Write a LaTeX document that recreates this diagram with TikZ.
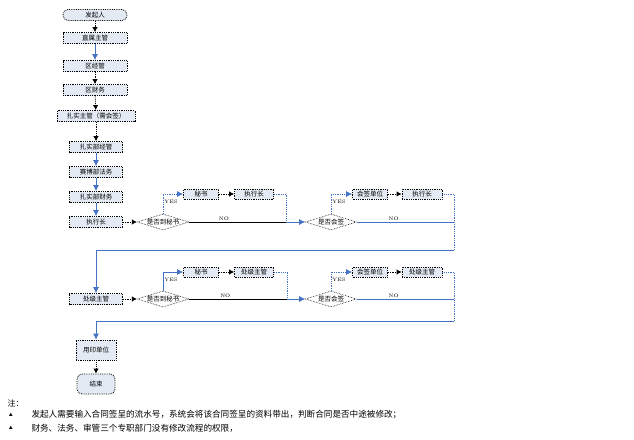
\documentclass[tikz,border=0pt]{standalone}
\usepackage{fontspec}
\newfontfamily\cjk{Noto Sans CJK SC}
\usepackage{xcolor}
\usetikzlibrary{shapes.geometric, arrows.meta}
\definecolor{boxfill}{HTML}{E4EAF4}
\definecolor{flowblue}{HTML}{4472C4}

\begin{document}
\begin{tikzpicture}[x=1pt, y=-1pt,
  every node/.style={font=\cjk\fontsize{6.5}{7}\selectfont},
  box/.style={draw, densely dotted, line width=0.8pt, fill=boxfill, minimum height=11pt, inner sep=1.5pt},
  term/.style={box, rounded corners=5pt},
  decision/.style={diamond, aspect=3.2, draw, densely dotted, line width=0.6pt, fill=white, inner sep=0pt, minimum width=51pt, minimum height=16pt},
  blk/.style={densely dotted, line width=0.8pt, -{Latex[length=5pt,width=5.5pt]}},
  blu/.style={draw=flowblue, line width=0.8pt, -{Latex[length=6pt,width=6pt]}, color=flowblue},
  tag/.style={font=\fontsize{5}{6}\selectfont, text=black, inner sep=1pt}]

\useasboundingbox (0,0) rectangle (634,439);

% 主流程
\node[term, minimum width=64pt] (start) at (95,15) {发起人};
\node[box, minimum width=64pt] (zs) at (95,38) {直属主管};
\node[box, minimum width=64pt] (qj) at (95,66) {区经管};
\node[box, minimum width=64pt] (qc) at (95,90) {区财务};
\node[box, minimum width=78pt] (zz) at (96,116) {扎实主管（需会签）};
\node[box, minimum width=53pt] (bj) at (96,147) {扎实部经管};
\node[box, minimum width=53pt] (bf) at (96,172) {赛博部法务};
\node[box, minimum width=53pt] (bc) at (96,197) {扎实部财务};
\node[box, minimum width=53pt] (ex) at (96,222) {执行长};

\foreach \a/\b/\s in {start/zs/blk, zs/qj/blu, qj/qc/blk, qc/zz/blk,
  zz/bj/blk, bj/bf/blu, bf/bc/blu, bc/ex/blu}
  \draw[\s] (\a) -- (\b);

% 第一行
\node[decision] (d1) at (163,222) {是否到秘书};
\node[box, minimum width=35pt, minimum height=10pt] (ms1) at (201,194) {秘书};
\node[box, minimum width=39pt, minimum height=10pt] (ex1) at (254,194) {执行长};
\node[decision] (d2) at (331,222) {是否会签};
\node[box, minimum width=35pt, minimum height=10pt] (hq1) at (370,194) {会签单位};
\node[box, minimum width=40pt, minimum height=10pt] (ex2) at (422,194) {执行长};
\coordinate (j1) at (286,222);
\coordinate (j2) at (454,222);
\coordinate (r1) at (454,250);

\draw[blk] (ex) -- (d1);
\draw[blu, densely dotted] (d1.north) |- (ms1.west) node[pos=0.3, right, tag] {YES};
\draw[blk] (ms1) -- (ex1);
\draw[blu, densely dotted, -] (ex1.east) -| (j1);
\draw[line width=0.8pt] (d1.east) -- (j1) node[pos=0.36, above, tag] {NO};
\draw[blu] (j1) -- (d2);
\draw[blu, densely dotted] (d2.north) |- (hq1.west) node[pos=0.3, right, tag] {YES};
\draw[blk] (hq1) -- (ex2);
\draw[blu, densely dotted, -] (ex2.east) -| (r1);
\draw[blu, -] (d2.east) -- (j2) node[pos=0.38, above, tag] {NO};

% 第二行
\node[box, minimum width=53pt] (ph) at (96,299) {处级主管};
\draw[blu] (r1) -| (ph.north);

\node[decision] (d3) at (163,299) {是否到秘书};
\node[box, minimum width=35pt, minimum height=10pt] (ms2) at (201,272) {秘书};
\node[box, minimum width=39pt, minimum height=10pt] (ph1) at (254,272) {处级主管};
\node[decision] (d4) at (331,299) {是否会签};
\node[box, minimum width=35pt, minimum height=10pt] (hq2) at (370,272) {会签单位};
\node[box, minimum width=40pt, minimum height=10pt] (ph2) at (422,272) {处级主管};
\coordinate (j3) at (287,299);
\coordinate (j4) at (454,299);
\coordinate (r2) at (454,321);

\draw[blk] (ph) -- (d3);
\draw[blu] (d3.north) |- (ms2.west) node[pos=0.3, right, tag] {YES};
\draw[blk] (ms2) -- (ph1);
\draw[blu, densely dotted, -] (ph1.east) -| (j3);
\draw[line width=0.8pt] (d3.east) -- (j3) node[pos=0.37, above, tag] {NO};
\draw[blu] (j3) -- (d4);
\draw[blu, densely dotted] (d4.north) |- (hq2.west) node[pos=0.3, right, tag] {YES};
\draw[blk] (hq2) -- (ph2);
\draw[blu, densely dotted, -] (ph2.east) -| (r2);
\draw[blu, -] (d4.east) -- (j4) node[pos=0.38, above, tag] {NO};

% 结束
\node[box, minimum width=40pt, minimum height=20pt] (yy) at (96,350) {用印单位};
\node[term, minimum width=38pt, minimum height=20pt] (end) at (96,384) {结束};
\draw[blu] (r2) -| (yy.north);
\draw[blk] (yy) -- (end);

% 注
\node[anchor=west, font=\cjk\fontsize{8}{9}\selectfont] (note) at (4,403) {注：};
\node[font=\cjk\fontsize{4}{5}\selectfont] (b1) at (11,415) {▲};
\node[anchor=west, font=\cjk\fontsize{8.6}{9}\selectfont] (n1) at (28,415)
  {发起人需要输入合同签呈的流水号，系统会将该合同签呈的资料带出，判断合同是否中途被修改；};
\node[font=\cjk\fontsize{4}{5}\selectfont] (b2) at (11,428) {▲};
\node[anchor=west, font=\cjk\fontsize{8.6}{9}\selectfont] (n2) at (28,428)
  {财务、法务、审管三个专职部门没有修改流程的权限，};

\end{tikzpicture}
\end{document}
